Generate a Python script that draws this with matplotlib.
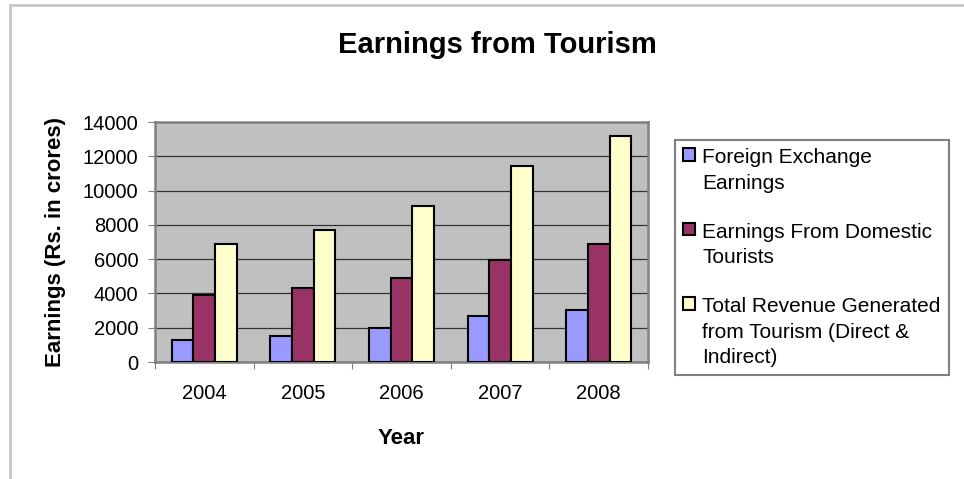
import matplotlib.pyplot as plt
import numpy as np
from matplotlib.lines import Line2D

plt.rcParams['font.family'] = ['Liberation Sans', 'DejaVu Sans']

# data
years = ["2004", "2005", "2006", "2007", "2008"]
foreign = [1260, 1500, 1980, 2680, 3010]
domestic = [3890, 4320, 4900, 5930, 6860]
total = [6860, 7720, 9080, 11430, 13180]
series_names = ["Foreign Exchange\nEarnings",
                "Earnings From Domestic\nTourists",
                "Total Revenue Generated\nfrom Tourism (Direct &\nIndirect)"]
colours = ["#9999FF", "#993366", "#FFFFCC"]

fig = plt.figure(figsize=(9.64, 4.79), dpi=100)
ax = fig.add_axes([155/964, 1-362/479, 493/964, 240/479])

x = np.arange(len(years))
w = 0.22
for k, vals in enumerate([foreign, domestic, total]):
    ax.bar(x + (k-1)*w, vals, w, color=colours[k], edgecolor="black",
           linewidth=1.5, label=series_names[k], zorder=3)

ax.set_facecolor("#C0C0C0")
ax.set_xlim(-0.5, len(years)-0.5)
ax.set_ylim(0, 14000)
ax.set_yticks(np.arange(0, 14001, 2000))
ax.yaxis.grid(True, color="#333333", linewidth=0.9, zorder=1)
for s in ax.spines.values():
    s.set_color("#808080")
    s.set_linewidth(1.8)

# ticks between categories, labels at centres
ax.set_xticks(np.arange(len(years)+1) - 0.5)
ax.set_xticklabels([])
ax.set_xticks(x, minor=True)
ax.set_xticklabels(years, minor=True)
ax.tick_params(axis="x", which="minor", length=0, pad=16, labelsize=14.5)
ax.tick_params(axis="x", which="major", length=5, color="#808080")
ax.tick_params(axis="y", length=5, color="#808080", pad=7, labelsize=14.5)

ax.set_xlabel("Year", fontsize=16, fontweight="bold", labelpad=18)
ax.set_ylabel("Earnings (Rs. in crores)", fontsize=16, fontweight="bold", labelpad=12)

fig.text(497/964, 1-45/479, "Earnings from Tourism", ha="center", va="center",
         fontsize=21, fontweight="bold")

leg = ax.legend(loc="upper left", bbox_to_anchor=(675/964, 1-140/479),
                bbox_transform=fig.transFigure, fontsize=15, frameon=True,
                fancybox=False, framealpha=1, edgecolor="#808080",
                handlelength=0.55, handleheight=0.55, handletextpad=0.35,
                labelspacing=1.45, borderpad=0.4, borderaxespad=0)
leg.get_frame().set_linewidth(1.5)
for t in leg.get_texts():
    t.set_linespacing(1.42)
# square marker next to the first line of each label
for col in leg._legend_handle_box.get_children():
    for row in col.get_children():
        row.align = "top"

# outer chart frame (left and top edges visible)
fig.add_artist(Line2D([10/964, 10/964], [0, 1-5/479], color="#C8C8C8", lw=2,
                      transform=fig.transFigure))
fig.add_artist(Line2D([10/964, 1], [1-5/479, 1-5/479], color="#C8C8C8", lw=2,
                      transform=fig.transFigure))

fig.savefig("out.png", dpi=100)
